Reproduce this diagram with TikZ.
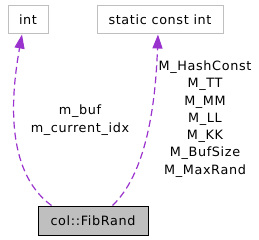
\documentclass[tikz,border=0pt]{standalone}
\usepackage{fontspec}
\setmainfont{DejaVu Sans}[LetterSpace=5]
\usetikzlibrary{arrows.meta}
\definecolor{edgepurple}{HTML}{9A32CD}
\definecolor{boxgray}{HTML}{BFBFBF}
\tikzset{
  cls/.style={draw=boxgray, line width=1pt, minimum height=28pt, inner sep=0pt, font=\fontsize{12.8}{15}\selectfont},
  mainbox/.style={draw=black, fill=boxgray, line width=1pt, minimum height=29pt, inner sep=0pt, font=\fontsize{12.8}{15}\selectfont},
  rel/.style={draw=edgepurple, line width=1.2pt, dash pattern=on 7pt off 4pt, -{Triangle[length=14pt,width=10pt]}},
  lbl/.style={align=center, inner sep=0pt, font=\fontsize{12.8}{17.3}\selectfont}
}
\begin{document}
\begin{tikzpicture}[x=1pt,y=-1pt]
\useasboundingbox (0,0) rectangle (259,240);
\node[cls, minimum width=40pt] (int) at (28,20) {int};
\node[cls, minimum width=126pt] (sci) at (160,20) {static const int};
\node[mainbox, minimum width=110pt] (fib) at (93,220.5) {col::FibRand};
\draw[rel] ([xshift=14pt]fib.north west) .. controls (3,170) and (12,90) .. ([xshift=-6pt]int.south);
\draw[rel] ([xshift=-36pt]fib.north east) .. controls (150,170) and (156,90) .. ([xshift=-2pt]sci.south);
\node[lbl] (l1) at (80,120) {m\_buf\\m\_current\_idx};
\node[lbl] (l2) at (205,119) {M\_HashConst\\M\_TT\\M\_MM\\M\_LL\\M\_KK\\M\_BufSize\\M\_MaxRand};
\end{tikzpicture}
\end{document}
